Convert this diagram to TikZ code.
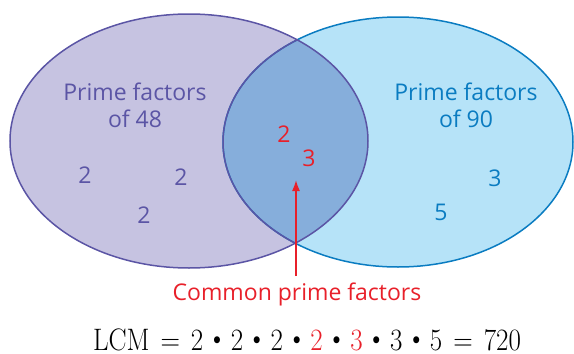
\documentclass[tikz,border=0pt]{standalone}
\usepackage{fontspec}
\usepackage{graphicx}
\usepackage{tikz}
\usetikzlibrary{arrows.meta}
\newfontfamily\labelfont{Open Sans}

\definecolor{leftfill}{HTML}{C6C3E1}
\definecolor{leftline}{HTML}{5B55A5}
\definecolor{rightfill}{HTML}{B6E3F8}
\definecolor{rightline}{HTML}{0A7CC1}
\definecolor{bothfill}{HTML}{86AEDB}
\definecolor{commonred}{HTML}{E8202A}
\newcommand{\dott}{\hspace{4pt}\raisebox{1pt}{\textbullet}\hspace{4pt}}
\newcommand{\eqq}{\hspace{11pt}=\hspace{11pt}}

\begin{document}
\begin{tikzpicture}[
    x=1pt, y=-1pt,
    lbl/.style={font=\labelfont\fontsize{23}{27}\selectfont, align=center, inner sep=0pt},
    lefttxt/.style={lbl, text=leftline},
    righttxt/.style={lbl, text=rightline},
    redtxt/.style={lbl, text=commonred},
    arr/.style={-{Latex[length=11pt, width=8pt]}, commonred, line width=1.6pt},
  ]
  \useasboundingbox (0,0) rectangle (574,354);
  % the two sets
  \fill[leftfill]  (189,141) ellipse [x radius=179, y radius=127];
  \fill[rightfill] (398,142) ellipse [x radius=175, y radius=125];
  \begin{scope}
    \clip (189,141) ellipse [x radius=179, y radius=127];
    \fill[bothfill] (398,142) ellipse [x radius=175, y radius=125];
  \end{scope}
  \draw[rightline, line width=1.5pt] (398,142) ellipse [x radius=175, y radius=125];
  \begin{scope}
    \clip (189,141) ellipse [x radius=179, y radius=127];
    \draw[leftline, line width=1.5pt] (398,142) ellipse [x radius=175, y radius=125];
  \end{scope}
  \draw[leftline, line width=1.5pt] (189,141) ellipse [x radius=179, y radius=127];

  % headings
  \node[lefttxt]  (h48) at (135,105) {Prime factors\\of 48};
  \node[righttxt] (h90) at (466,105) {Prime factors\\of 90};

  % factors of 48 only
  \node[lefttxt] (la) at (85,175)  {2};
  \node[lefttxt] (lb) at (181,177) {2};
  \node[lefttxt] (lc) at (144,215) {2};
  % common factors
  \node[redtxt] (ca) at (284,134) {2};
  \node[redtxt] (cb) at (309,158) {3};
  % factors of 90 only
  \node[righttxt] (ra) at (495,178) {3};
  \node[righttxt] (rb) at (441,212) {5};

  % pointer to the overlap
  \node[redtxt] (common) at (297,294) {Common prime factors};
  \coordinate (tip) at (296,180);
  \coordinate (tail) at (296,276);
  \draw[arr] (tail) -- (tip);

  % result
  \node[inner sep=0pt, anchor=base, font=\fontsize{27}{32}\selectfont] (lcm) at (307,350)
    {\scalebox{1}[1.15]{LCM\eqq 2\dott 2\dott 2\dott \textcolor{commonred}{2}\dott \textcolor{commonred}{3}\dott 3\dott 5\eqq 720}};
\end{tikzpicture}
\end{document}
